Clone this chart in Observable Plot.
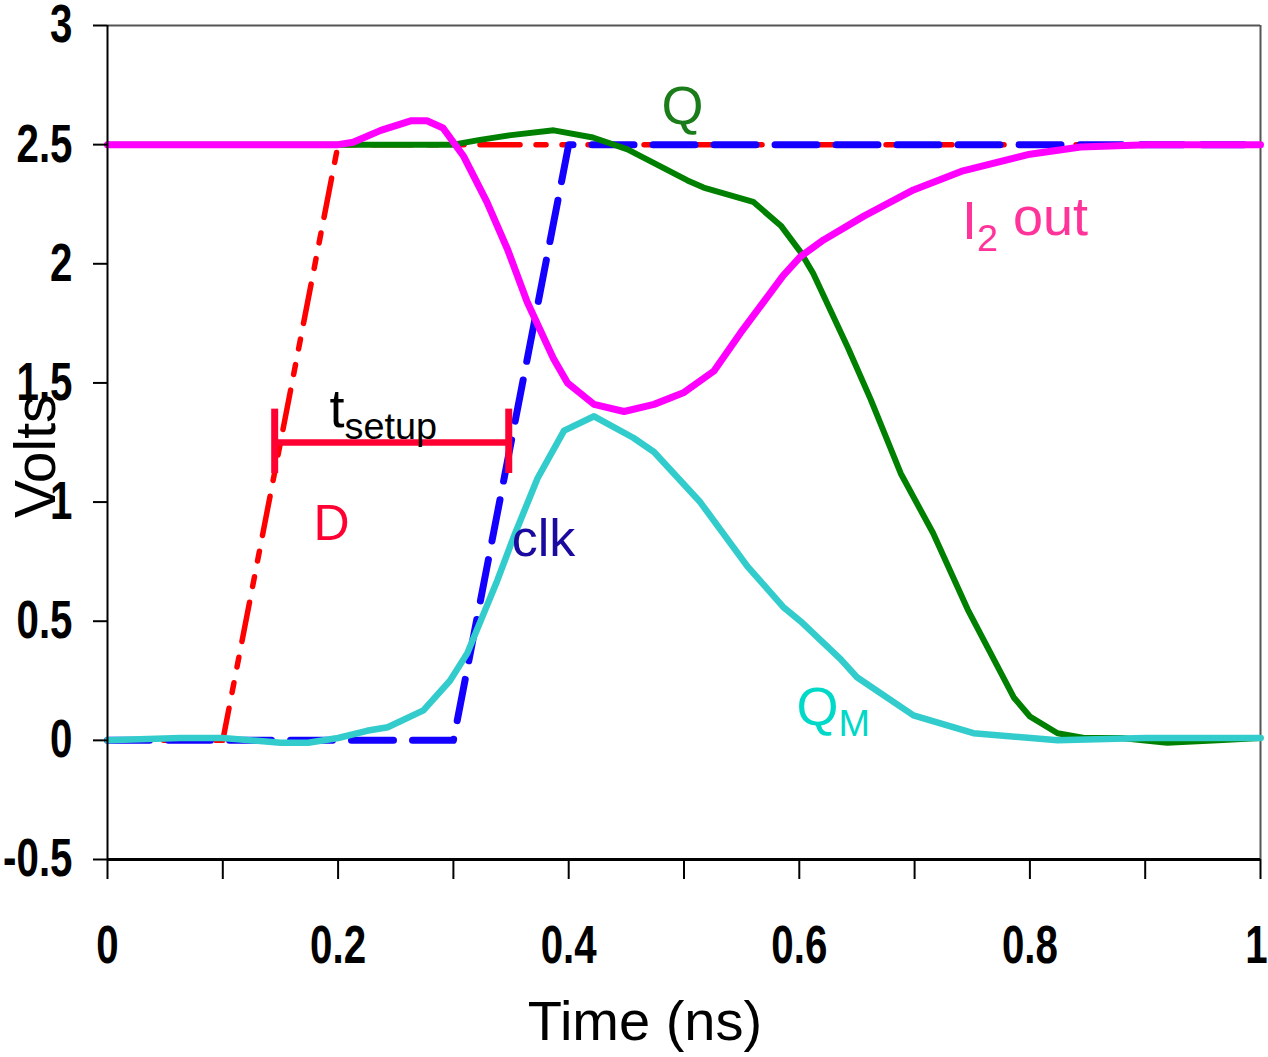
<!DOCTYPE html>
<html><head><meta charset="utf-8">
<script src="https://cdn.jsdelivr.net/npm/d3@7"></script>
<script src="https://cdn.jsdelivr.net/npm/@observablehq/plot@0.6"></script>
<style>
body{margin:0;background:#fff;}
#chart svg{display:block;background:#fff}
g[aria-label="y-axis tick label"] text, g[aria-label="x-axis tick label"] text{
  font-family:"Liberation Sans",Arial,sans-serif;
  font-weight:bold; font-size:53px; fill:#000;
}
</style>
</head><body><div id="chart"></div>
<script>
// D input (red, dash-dot)
const dTime  = [0, 0.1, 0.2, 1.0];
const dVolts = [0, 0, 2.5, 2.5];
// clock (blue, dashed)
const clkTime  = [0, 0.3, 0.4, 1.0];
const clkVolts = [0, 0, 2.5, 2.5];
// Q output (green)
const qTime  = [0,0.2,0.3,0.323,0.35,0.387,0.421,0.451,0.503,0.517,0.56,0.584,0.601,0.612,0.642,0.662,0.688,0.716,0.746,0.786,0.8,0.824,0.847,0.879,0.919,0.963,1.0];
const qVolts = [2.5,2.5,2.5,2.52,2.54,2.56,2.53,2.48,2.35,2.32,2.26,2.16,2.05,1.96,1.65,1.43,1.12,0.87,0.55,0.18,0.10,0.03,0.01,0.01,-0.01,0,0.01];
// I2 out (magenta)
const i2Time  = [0,0.2,0.213,0.237,0.263,0.277,0.291,0.309,0.329,0.347,0.364,0.387,0.399,0.422,0.448,0.474,0.5,0.526,0.549,0.586,0.601,0.621,0.656,0.699,0.742,0.8,0.844,0.902,1.0];
const i2Volts = [2.5,2.5,2.51,2.56,2.60,2.60,2.57,2.45,2.26,2.06,1.84,1.60,1.50,1.41,1.38,1.41,1.46,1.55,1.71,1.95,2.03,2.10,2.20,2.31,2.39,2.46,2.49,2.50,2.50];
// QM master node (cyan)
const qmTime  = [0,0.063,0.1,0.15,0.174,0.2,0.225,0.243,0.274,0.297,0.312,0.338,0.352,0.373,0.396,0.422,0.456,0.474,0.514,0.555,0.586,0.601,0.636,0.65,0.699,0.751,0.824,0.9,1.0];
const qmVolts = [0,0.01,0.01,-0.01,-0.01,0.01,0.04,0.055,0.126,0.25,0.365,0.67,0.85,1.10,1.30,1.36,1.27,1.21,1.00,0.73,0.56,0.50,0.34,0.265,0.105,0.03,0,0.01,0.01];
// setup-time bracket
const setupTimes = [0.145, 0.348];
const setupLevel = 1.25;
const setupCap = [1.12, 1.39];
// axis ticks
const yTicks = [-0.5, 0, 0.5, 1, 1.5, 2, 2.5, 3];
const xTicks = [0, 0.1, 0.2, 0.3, 0.4, 0.5, 0.6, 0.7, 0.8, 0.9, 1.0];
const xLabelTicks = [0, 0.2, 0.4, 0.6, 0.8, 1.0];

const zip = (t, v) => t.map((x, i) => ({t: x, v: v[i]}));

const plot = Plot.plot({
  width: 1268, height: 1057,
  marginLeft: 107, marginRight: 8, marginTop: 25, marginBottom: 198,
  x: {domain: [0, 1]},
  y: {domain: [-0.5, 3]},
  style: {fontFamily: "Liberation Sans, Arial, sans-serif", background: "#fff"},
  marks: [
    Plot.ruleY([3], {stroke: "#555", strokeWidth: 2}),
    Plot.ruleX([1], {stroke: "#555", strokeWidth: 2}),
    Plot.line(zip(dTime, dVolts), {x: "t", y: "v", stroke: "#ff0000", strokeWidth: 5.5, strokeDasharray: "40,16,10,16,10,16"}),
    Plot.line(zip(clkTime, clkVolts), {x: "t", y: "v", stroke: "#1400ff", strokeWidth: 7, strokeDasharray: "42,19"}),
    Plot.line(zip(qTime, qVolts), {x: "t", y: "v", stroke: "#008000", strokeWidth: 6, strokeLinejoin: "round"}),
    Plot.line(zip(i2Time, i2Volts), {x: "t", y: "v", stroke: "#ff00ff", strokeWidth: 7, strokeLinejoin: "round"}),
    Plot.line(zip(qmTime, qmVolts), {x: "t", y: "v", stroke: "#33cccc", strokeWidth: 6.5, strokeLinejoin: "round"}),
    Plot.ruleY([setupLevel], {x1: setupTimes[0], x2: setupTimes[1], stroke: "#ff0033", strokeWidth: 6.5}),
    Plot.ruleX(setupTimes, {y1: setupCap[0], y2: setupCap[1], stroke: "#ff0033", strokeWidth: 7}),
    Plot.axisY(yTicks, {tickSize: 14, tickPadding: 21, tickFormat: d => String(d), stroke: "#000", strokeWidth: 2, label: null}),
    Plot.axisX(xTicks, {tickSize: 20, tickPadding: 46, strokeWidth: 2, stroke: "#000",
      tickFormat: d => xLabelTicks.some(v => Math.abs(v - d) < 1e-9) ? String(+d.toFixed(1)) : "", label: null}),
    Plot.ruleX([0], {stroke: "#000", strokeWidth: 2}),
    Plot.ruleY([-0.5], {stroke: "#000", strokeWidth: 3})
  ]
});
document.getElementById("chart").appendChild(plot);

// condense the bold tick labels (Arial Narrow look)
d3.select(plot).selectAll('g[aria-label="y-axis tick label"] text, g[aria-label="x-axis tick label"] text')
  .each(function() {
    const w = this.getComputedTextLength();
    if (w > 0) {
      this.setAttribute("textLength", (w * 0.76).toFixed(1));
      this.setAttribute("lengthAdjust", "spacingAndGlyphs");
    }
    if (this.textContent === "1" && this.closest('g[aria-label="x-axis tick label"]')) {
      this.setAttribute("dx", "-4");
    }
  });

// annotations placed via the plot's own scales
const sx = plot.scale("x"), sy = plot.scale("y");
const svg = d3.select(plot);
const labels = [
  {t: 0.481, v: 2.584, main: "Q", sub: "", color: "#1a7d1a", size: 54},
  {t: 0.179, v: 0.84, main: "D", sub: "", color: "#ff0033", size: 50},
  {t: 0.351, v: 0.773, main: "clk", sub: "", color: "#1a0aa0", size: 52},
  {t: 0.598, v: 0.063, main: "Q", sub: "M", color: "#00d8c8", size: 54},
  {t: 0.7415, v: 2.10, main: "I", sub: "2", color: "#ff3399", size: 54, after: " out"},
  {t: 0.193, v: 1.311, main: "t", sub: "setup", color: "#000", size: 54}
];
for (const L of labels) {
  const txt = svg.append("text")
    .attr("x", sx.apply(L.t)).attr("y", sy.apply(L.v))
    .attr("text-anchor", "start")
    .attr("fill", L.color)
    .style("font-family", "Liberation Sans, Arial, sans-serif")
    .style("font-size", L.size + "px");
  txt.append("tspan").text(L.main);
  if (L.sub) txt.append("tspan").attr("dy", "0.3em").style("font-size", (L.size * 0.7) + "px").text(L.sub);
  if (L.after) txt.append("tspan").attr("dy", "-0.3em").text(L.after);
}
// axis titles
svg.append("text").attr("x", sx.apply(0.4666)).attr("y", 1040)
  .attr("text-anchor", "middle").style("font-family", "Liberation Sans, Arial, sans-serif")
  .style("font-size", "56px").attr("fill", "#000").text("Time (ns)");
svg.append("text").attr("transform", `translate(55,${sy.apply(1.19)}) rotate(-90)`)
  .attr("text-anchor", "middle").style("font-family", "Liberation Sans, Arial, sans-serif")
  .style("font-size", "57px").attr("fill", "#000").text("Volts");
</script>
</body></html>
